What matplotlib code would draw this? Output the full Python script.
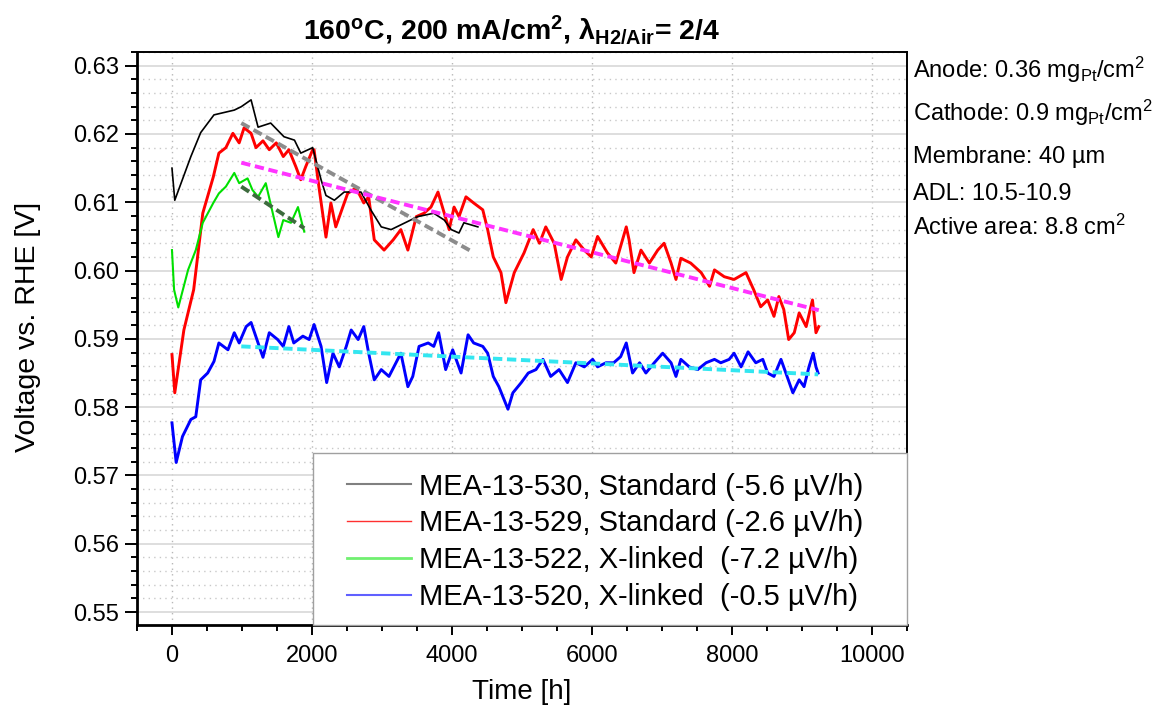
import numpy as np
import matplotlib
matplotlib.use("Agg")
import matplotlib.pyplot as plt
from matplotlib.lines import Line2D
from matplotlib.patches import Rectangle
from matplotlib.ticker import MultipleLocator, FormatStrFormatter

plt.rcParams['font.family'] = ['Liberation Sans', 'DejaVu Sans']
plt.rcParams['mathtext.fontset'] = 'custom'
plt.rcParams['mathtext.rm'] = 'Liberation Sans'
plt.rcParams['mathtext.bf'] = 'Liberation Sans:bold'
plt.rcParams['mathtext.it'] = 'Liberation Sans:italic'

# MEA-13-530, standard
t_530 = [0, 40, 270, 410, 600, 890, 990, 1130, 1230, 1410, 1600, 1750, 1840, 2010,
         2130, 2200, 2320, 2460, 2700, 2840, 2990, 3130, 3270, 3510, 3740, 3890,
         3990, 4100, 4170, 4370]
v_530 = [0.6150, 0.6103, 0.6167, 0.6202, 0.6228, 0.6235, 0.6240, 0.6250, 0.6210,
         0.6216, 0.6196, 0.6191, 0.6172, 0.6180, 0.6133, 0.6110, 0.6103, 0.6115,
         0.6115, 0.6089, 0.6064, 0.6060, 0.6067, 0.6079, 0.6084, 0.6074, 0.6060,
         0.6055, 0.6070, 0.6064]

# MEA-13-529, standard
t_529 = [0, 40, 170, 310, 440, 590, 670, 770, 870, 960, 1030, 1130, 1200, 1300,
         1390, 1490, 1590, 1670, 1770, 1840, 1910, 2010, 2030, 2100, 2200, 2270,
         2340, 2440, 2510, 2630, 2740, 2810, 2890, 3030, 3160, 3270, 3370, 3490,
         3600, 3700, 3800, 3890, 3960, 4030, 4100, 4200, 4310, 4440, 4510, 4590,
         4700, 4770, 4890, 5030, 5160, 5250, 5340, 5460, 5560, 5650, 5770, 5890,
         5990, 6080, 6220, 6340, 6490, 6530, 6600, 6700, 6820, 6940, 7030, 7130,
         7200, 7270, 7410, 7560, 7680, 7750, 7890, 8030, 8200, 8310, 8410, 8510,
         8600, 8670, 8740, 8810, 8890, 8960, 9060, 9150, 9200, 9240]
v_529 = [0.5877, 0.5821, 0.5913, 0.5972, 0.6084, 0.6137, 0.6172, 0.6180, 0.6201,
         0.6187, 0.6209, 0.6201, 0.6180, 0.6190, 0.6177, 0.6187, 0.6167, 0.6177,
         0.6152, 0.6133, 0.6152, 0.6177, 0.6177, 0.6122, 0.6049, 0.6099, 0.6064,
         0.6093, 0.6113, 0.6121, 0.6099, 0.6108, 0.6045, 0.6030, 0.6045, 0.6060,
         0.6030, 0.6079, 0.6084, 0.6093, 0.6115, 0.6084, 0.6060, 0.6093, 0.6079,
         0.6108, 0.6099, 0.6089, 0.6060, 0.6020, 0.5997, 0.5953, 0.5997, 0.6026,
         0.6060, 0.6040, 0.6064, 0.6040, 0.5987, 0.6020, 0.6045, 0.6030, 0.6020,
         0.6050, 0.6026, 0.6011, 0.6064, 0.6045, 0.5997, 0.6030, 0.6011, 0.6030,
         0.6040, 0.6011, 0.5987, 0.6018, 0.6011, 0.5997, 0.5977, 0.6001, 0.5991,
         0.5987, 0.5997, 0.5972, 0.5947, 0.5957, 0.5933, 0.5962, 0.5943, 0.5899,
         0.5909, 0.5938, 0.5918, 0.5957, 0.5909, 0.5918]

# MEA-13-522, x-linked
t_522 = [0, 30, 90, 230, 340, 440, 590, 670, 770, 890, 960, 1080, 1150, 1230,
         1340, 1440, 1520, 1590, 1700, 1800, 1870, 1890]
v_522 = [0.6030, 0.5972, 0.5946, 0.6001, 0.6030, 0.6070, 0.6099, 0.6113, 0.6123,
         0.6143, 0.6128, 0.6135, 0.6118, 0.6108, 0.6128, 0.6084, 0.6049, 0.6074,
         0.6070, 0.6093, 0.6064, 0.6057]

# MEA-13-520, x-linked
t_520 = [0, 60, 150, 270, 340, 410, 510, 600, 670, 800, 890, 960, 1060, 1130,
         1230, 1300, 1390, 1510, 1590, 1670, 1740, 1870, 1960, 2030, 2130, 2210,
         2300, 2390, 2490, 2560, 2660, 2740, 2810, 2890, 2990, 3100, 3200, 3270,
         3370, 3440, 3530, 3660, 3740, 3810, 3910, 4010, 4130, 4230, 4310, 4440,
         4510, 4590, 4670, 4800, 4870, 4990, 5090, 5200, 5300, 5410, 5530, 5650,
         5770, 5890, 6010, 6080, 6200, 6310, 6410, 6490, 6580, 6680, 6770, 6890,
         7010, 7130, 7200, 7270, 7390, 7510, 7630, 7750, 7840, 7960, 8030, 8130,
         8230, 8340, 8440, 8510, 8600, 8700, 8770, 8870, 8960, 9030, 9100, 9160,
         9200, 9230]
v_520 = [0.5777, 0.5719, 0.5757, 0.5782, 0.5786, 0.5840, 0.5850, 0.5867, 0.5894,
         0.5884, 0.5909, 0.5894, 0.5918, 0.5924, 0.5894, 0.5873, 0.5909, 0.5899,
         0.5889, 0.5918, 0.5894, 0.5904, 0.5899, 0.5921, 0.5889, 0.5836, 0.5879,
         0.5859, 0.5889, 0.5913, 0.5899, 0.5918, 0.5879, 0.5840, 0.5855, 0.5845,
         0.5865, 0.5879, 0.5830, 0.5845, 0.5889, 0.5894, 0.5889, 0.5909, 0.5855,
         0.5884, 0.5850, 0.5906, 0.5894, 0.5889, 0.5879, 0.5845, 0.5830, 0.5797,
         0.5821, 0.5836, 0.5850, 0.5855, 0.5870, 0.5845, 0.5855, 0.5836, 0.5865,
         0.5859, 0.5870, 0.5859, 0.5865, 0.5865, 0.5874, 0.5894, 0.5850, 0.5865,
         0.5850, 0.5865, 0.5879, 0.5865, 0.5845, 0.5870, 0.5859, 0.5855, 0.5865,
         0.5870, 0.5865, 0.5870, 0.5879, 0.5859, 0.5881, 0.5865, 0.5870, 0.5850,
         0.5845, 0.5870, 0.5850, 0.5821, 0.5840, 0.5830, 0.5859, 0.5879, 0.5859,
         0.5850]

# linear fits (start/end)
fit_t_530 = [990, 4300]
fit_v_530 = [0.6216, 0.6027]
fit_t_529 = [990, 9240]
fit_v_529 = [0.6158, 0.5942]
fit_t_522 = [990, 1890]
fit_v_522 = [0.6123, 0.6062]
fit_t_520 = [990, 9230]
fit_v_520 = [0.5889, 0.5848]

labels = ['MEA-13-530, Standard (-5.6 µV/h)',
          'MEA-13-529, Standard (-2.6 µV/h)',
          'MEA-13-522, X-linked  (-7.2 µV/h)',
          'MEA-13-520, X-linked  (-0.5 µV/h)']

info = ['Anode: 0.36 mg$_{\\mathregular{Pt}}$/cm$^{\\mathregular{2}}$',
        'Cathode: 0.9 mg$_{\\mathregular{Pt}}$/cm$^{\\mathregular{2}}$',
        'Membrane: 40 µm',
        'ADL: 10.5-10.9',
        'Active area: 8.8 cm$^{\\mathregular{2}}$']

fig = plt.figure(figsize=(11.52, 7.13), dpi=100)
ax = fig.add_axes([0.1189, 0.1234, 0.6684, 0.8036])

ax.plot(t_529, v_529, color='#ff0000', lw=2.1, zorder=2)
ax.plot(t_520, v_520, color='#0000ff', lw=2.1, zorder=2)
ax.plot(t_522, v_522, color='#00e000', lw=1.5, zorder=2.1)
ax.plot(t_530, v_530, color='black', lw=1.2, zorder=2.2)

dash = (2.4, 1.2)
ax.plot(fit_t_530, fit_v_530, color='#8c8c8c', lw=2.8, dashes=dash, zorder=3)
ax.plot(fit_t_529, fit_v_529, color='#ff33ff', lw=2.8, dashes=dash, zorder=3)
ax.plot(fit_t_522, fit_v_522, color='#3d6b3d', lw=2.8, dashes=dash, zorder=3)
ax.plot(fit_t_520, fit_v_520, color='#33e6f0', lw=2.8, dashes=dash, zorder=3)

ax.set_xlim(-500, 10500)
ax.set_ylim(0.5481, 0.632)
ax.xaxis.set_major_locator(MultipleLocator(2000))
ax.xaxis.set_minor_locator(MultipleLocator(500))
ax.yaxis.set_major_locator(MultipleLocator(0.01))
ax.yaxis.set_minor_locator(MultipleLocator(0.002))
ax.yaxis.set_major_formatter(FormatStrFormatter('%.2f'))

ax.grid(axis='y', which='major', color='#d8d8d8', lw=1.2, ls='-')
ax.grid(axis='y', which='minor', color='#c8c8c8', lw=1.0, ls=(0, (1, 3)))
ax.grid(axis='x', which='major', color='#b8b8b8', lw=1.0, ls=(0, (1, 3)))
ax.set_axisbelow(True)

ax.tick_params(which='both', direction='out', top=False, right=False, width=1.4)
ax.tick_params(axis='y', which='major', length=9, labelsize=17, pad=4)
ax.tick_params(axis='x', which='major', length=7.5, labelsize=17, pad=7)
ax.tick_params(which='minor', length=4.5)
for side in ['left', 'bottom']:
    ax.spines[side].set_linewidth(2.0)
for side in ['top', 'right']:
    ax.spines[side].set_linewidth(1.4)

ax.set_xlabel('Time [h]', fontsize=20)
ax.set_ylabel('Voltage vs. RHE [V]', fontsize=20.5)
ax.xaxis.set_label_coords(0.5, -0.095)
ax.yaxis.set_label_coords(-0.125, 0.52)

# legend box (frame drawn separately so the padding matches)
ax.add_patch(Rectangle((0.2286, 0.0), 0.7714, 0.300, transform=ax.transAxes,
                       facecolor='white', edgecolor='#a0a0a0', lw=1.0,
                       zorder=4, clip_on=False))
handles = [Line2D([], [], color='#808080', lw=1.5),
           Line2D([], [], color='#ff3030', lw=1.0),
           Line2D([], [], color='#70f070', lw=2.0),
           Line2D([], [], color='#6060ff', lw=1.5)]
leg = ax.legend(handles, labels, loc='upper left', bbox_to_anchor=(0.2727, 0.266),
                borderaxespad=0, fontsize=21, frameon=False, handlelength=2.2,
                handletextpad=0.28, labelspacing=0.3, borderpad=0)
leg.set_zorder(5)

fig.text(512 / 1152, 1 - 30 / 713,
         '160$^{\\mathbf{o}}$C, 200 mA/cm$^{\\mathbf{2}}$, λ$_{\\mathbf{H2/Air}}$= 2/4',
         fontsize=20.5, fontweight='bold', ha='center', va='center')

info_y = [78, 121, 163, 200, 235]
for txt, yy in zip(info, info_y):
    fig.text(913 / 1152, 1 - yy / 713, txt, fontsize=17, ha='left', va='baseline')

fig.savefig('out.png', dpi=100)
